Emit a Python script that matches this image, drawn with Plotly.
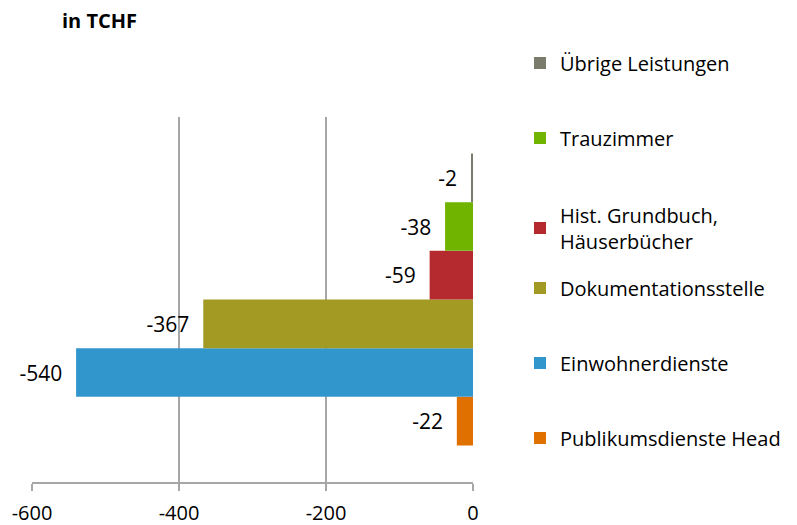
import plotly.graph_objects as go

# Data (top-to-bottom order as shown)
categories = ["Übrige Leistungen", "Trauzimmer", "Hist. Grundbuch,<br>Häuserbücher",
              "Dokumentationsstelle", "Einwohnerdienste", "Publikumsdienste Head"]
values = [-2, -38, -59, -367, -540, -22]
colors = ["#7b7b6b", "#70b400", "#b42a2f", "#a39a24", "#3196cc", "#e07000"]
tick_vals = [-600, -400, -200, 0]
tick_text = ["-600", "-400", "-200", "0"]
title_text = "in TCHF"

FONT = "Open Sans"
OFF = 8  # page body margin
W, H = 797 - OFF, 525 - OFF
legend_rows_px = [63, 138, 228, 288, 363, 438]

fig = go.Figure()
n = len(categories)
# plotly places the first trace at the bottom of a horizontal group -> add in reverse
for i in reversed(range(n)):
    lg = "legend" if i == 0 else f"legend{i+1}"
    fig.add_trace(go.Bar(
        y=["c"], x=[values[i]], orientation="h",
        name=categories[i], marker=dict(color=colors[i], line=dict(width=0)),
        text=[f"{values[i]}\u00a0\u00a0"], textposition="outside",
        textfont=dict(family=FONT, size=21, color="#000000"),
        cliponaxis=False, constraintext="none",
        legend=lg, showlegend=True, hoverinfo="skip",
    ))

layout_legends = {}
for i in range(n):
    key = "legend" if i == 0 else f"legend{i+1}"
    layout_legends[key] = dict(
        xref="container", yref="container",
        x=(520 - OFF) / W, y=1 - (legend_rows_px[i] - OFF) / H,
        xanchor="left", yanchor="middle",
        font=dict(family=FONT, size=20, color="#000000"),
        bgcolor="rgba(0,0,0,0)", borderwidth=0,
        itemclick=False, itemdoubleclick=False,
    )

fig.update_layout(
    width=W, height=H,
    margin=dict(l=32 - OFF, r=797 - 473, t=117 - OFF, b=525 - 482, autoexpand=False),
    paper_bgcolor="white", plot_bgcolor="white",
    barmode="group", bargap=0.2, bargroupgap=0,
    font=dict(family=FONT, size=21, color="#000000"),
    title=dict(text=f"<b>{title_text}</b>", x=(62 - OFF) / W, xanchor="left",
               xref="container", yref="container",
               y=1 - (21 - OFF) / H, yanchor="middle",
               font=dict(family=FONT, size=20, color="#000000")),
    xaxis=dict(range=[-600, 0], tickvals=tick_vals, ticktext=tick_text,
               automargin=False,
               showgrid=True, gridcolor="#a6a6a6", gridwidth=1.5,
               zeroline=False, showline=True, linecolor="#a6a6a6", linewidth=1.5,
               ticks="outside", ticklen=7, tickcolor="#a6a6a6", tickwidth=1.5,
               ticklabelstandoff=5,
               tickfont=dict(family=FONT, size=20, color="#000000"),
               fixedrange=True),
    yaxis=dict(showticklabels=False, showgrid=False, zeroline=False, automargin=False,
               showline=False, ticks="", fixedrange=True),
    **layout_legends,
)

fig.write_html("out.html")
